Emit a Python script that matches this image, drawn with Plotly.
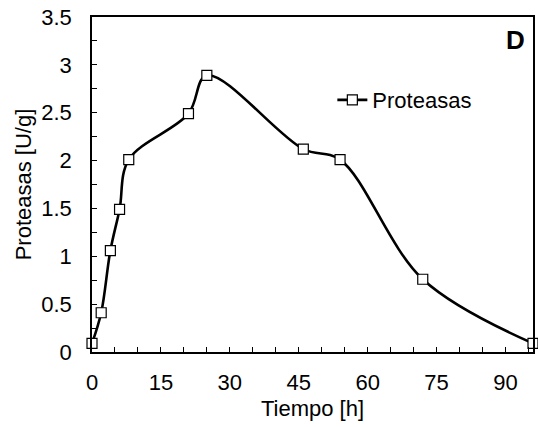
import plotly.graph_objects as go

tiempo = [0, 2, 4, 6, 8, 21, 25, 46, 54, 72, 96]
proteasas = [0.09, 0.41, 1.06, 1.49, 2.01, 2.49, 2.89, 2.12, 2.01, 0.76, 0.09]
x_ticks = [0, 15, 30, 45, 60, 75, 90]
y_ticks = [0, 0.5, 1, 1.5, 2, 2.5, 3, 3.5]
y_ticktext = ["0", "0.5", "1", "1.5", "2", "2.5", "3", "3.5"]

FONT = "Arial, Liberation Sans, sans-serif"

fig = go.Figure()
fig.add_trace(go.Scatter(
    x=tiempo, y=proteasas, mode="lines+markers", name="Proteasas",
    line=dict(color="black", width=2.6, shape="spline", smoothing=1),
    marker=dict(symbol="square", size=10, color="white", line=dict(color="black", width=1.2)),
    cliponaxis=False,
))

fig.update_layout(
    width=538, height=427,
    margin=dict(l=92, r=3, t=17, b=75),
    paper_bgcolor="white", plot_bgcolor="white",
    font=dict(family=FONT, size=22, color="black"),
    showlegend=True,
    legend=dict(x=0.545, y=0.752, xanchor="left", yanchor="middle",
                bgcolor="rgba(0,0,0,0)", font=dict(size=22), itemwidth=30),
    annotations=[dict(text="<b>D</b>", x=0.96, y=0.93, xref="paper", yref="paper",
                      xanchor="center", yanchor="middle",
                      showarrow=False, font=dict(size=26, family=FONT))],
)
fig.update_xaxes(
    range=[0, 96], tickvals=x_ticks, ticks="inside", ticklen=5, tickwidth=1.3,
    tickcolor="black", showline=True, linecolor="black", linewidth=1.5, mirror=True,
    showgrid=False, zeroline=False, ticklabelstandoff=10,
    minor=dict(dtick=5, tick0=0, ticks="inside", ticklen=5, tickwidth=1.3, tickcolor="black", showgrid=False),
    title=dict(text="Tiempo [h]", standoff=6, font=dict(size=22)),
)
fig.update_yaxes(
    range=[0, 3.5], tickvals=y_ticks, ticktext=y_ticktext, ticks="inside", ticklen=5, tickwidth=1.3,
    tickcolor="black", showline=True, linecolor="black", linewidth=1.5, mirror=True,
    showgrid=False, zeroline=False, ticklabelstandoff=14,
    minor=dict(dtick=0.25, tick0=0, ticks="inside", ticklen=5, tickwidth=1.3, tickcolor="black", showgrid=False),
    title=dict(text="Proteasas [U/g]", standoff=4, font=dict(size=22)),
)

fig.write_html("out.html")
